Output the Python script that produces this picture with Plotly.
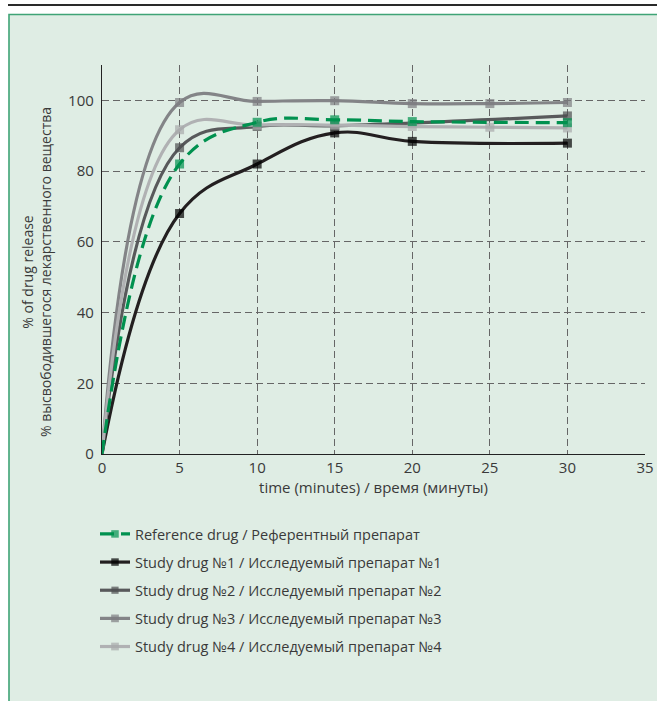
import plotly.graph_objects as go

# ---- data ----
ref_x = [0, 5, 10, 15, 20, 30]
ref_y = [0, 82, 93.8, 94.5, 94.0, 93.7]

s1_x = [0, 5, 10, 15, 20, 30]
s1_y = [0, 68, 82, 90.8, 88.4, 87.9]

s2_x = [0, 5, 10, 15, 30]
s2_y = [0, 86.6, 92.6, 92.8, 95.6]

s3_x = [0, 5, 10, 15, 20, 25, 30]
s3_y = [0, 99.4, 99.7, 99.9, 99.1, 99.1, 99.4]

s4_x = [0, 5, 10, 15, 20, 25, 30]
s4_y = [0, 91.7, 93.0, 93.0, 92.6, 92.4, 92.2]

names = [
    "Reference drug / Референтный препарат",
    "Study drug №1 / Исследуемый препарат №1",
    "Study drug №2 / Исследуемый препарат №2",
    "Study drug №3 / Исследуемый препарат №3",
    "Study drug №4 / Исследуемый препарат №4",
]

x_ticks = [0, 5, 10, 15, 20, 25, 30, 35]
y_ticks = [0, 20, 40, 60, 80, 100]

y_title = "% of drug release<br>% высвободившегося лекарственного вещества"
x_title = "time (minutes) / время (минуты)"

# ---- layout geometry ----
W, H = 657, 701
L, R, T, B = 102, 12, 65, 247
PW, PH = W - L - R, H - T - B
FONT = "Open Sans, Noto Sans, sans-serif"
TXT = "#3a3a3a"


def px(x_ref):
    return (x_ref - L) / PW


def py(y_ref):
    return (H - B - y_ref) / PH


fig = go.Figure()

series = [
    (s1_x, s1_y, names[1], "#231f20", "#000000", None, 2),
    (s2_x, s2_y, names[2], "#58595b", "#4d4e50", None, 3),
    (s3_x, s3_y, names[3], "#838487", "#7d7e81", None, 4),
    (s4_x, s4_y, names[4], "#b0b1b3", "#a8a9ab", None, 5),
    (ref_x, ref_y, names[0], "#00914f", "#00914f", "14px,7px", 1),
]

for xs, ys, nm, lc, mc, dash, rank in series:
    sizes = [0] + [9] * (len(xs) - 1)
    fig.add_trace(go.Scatter(
        x=xs, y=ys, name=nm, mode="lines+markers",
        line=dict(color=lc, width=3.2, shape="spline", smoothing=1.15,
                  dash=dash if dash else "solid"),
        marker=dict(symbol="square", size=sizes, color=mc, line=dict(width=0)),
        legendrank=rank, legendgroup=nm,
    ))

# frame shapes
fig.add_shape(type="line", xref="paper", yref="paper",
              x0=px(8), x1=px(700), y0=py(5), y1=py(5),
              line=dict(color="#2a2a2a", width=2), layer="below")
fig.add_shape(type="rect", xref="paper", yref="paper",
              x0=px(9), x1=px(720), y0=py(760), y1=py(14.5),
              fillcolor="#dfede4", line=dict(color="#3fa476", width=1.6),
              layer="below")

# y-axis title as a rotated annotation
fig.add_annotation(text=y_title, xref="paper", yref="paper",
                   x=px(36), y=py(272), xanchor="center", yanchor="middle",
                   textangle=-90, showarrow=False, align="center",
                   font=dict(family=FONT, size=14, color=TXT))

grid = dict(showgrid=True, gridcolor="#666666", gridwidth=1.3, griddash="7px,4px")

fig.update_xaxes(
    range=[0, 35], tickvals=x_ticks, ticktext=[str(v) for v in x_ticks],
    showline=True, linecolor="#222222", linewidth=1.3,
    zeroline=False, ticks="", ticklen=0,
    tickfont=dict(family=FONT, size=15, color=TXT),
    title=dict(text=x_title,
               font=dict(family=FONT, size=15, color=TXT), standoff=4),
    **grid,
)
fig.update_yaxes(
    range=[0, 110], tickvals=y_ticks, ticktext=[str(v) for v in y_ticks],
    showline=True, linecolor="#222222", linewidth=1.3,
    zeroline=False, ticks="", ticklen=0, ticklabelstandoff=4,
    tickfont=dict(family=FONT, size=15, color=TXT),
    **grid,
)

fig.update_layout(
    width=W, height=H,
    margin=dict(l=L, r=R, t=T, b=B, autoexpand=False),
    paper_bgcolor="#ffffff", plot_bgcolor="rgba(0,0,0,0)",
    font=dict(family=FONT, size=14, color=TXT),
    showlegend=True,
    legend=dict(x=px(95), y=py(518), xanchor="left", yanchor="top",
                orientation="v", bgcolor="rgba(0,0,0,0)",
                font=dict(family=FONT, size=14.5, color=TXT),
                tracegroupgap=6.3, itemwidth=30),
)

fig.write_html(
    "out.html",
    config={"displayModeBar": False},
    post_script="document.body.style.margin='0';document.body.style.overflow='hidden';",
)
